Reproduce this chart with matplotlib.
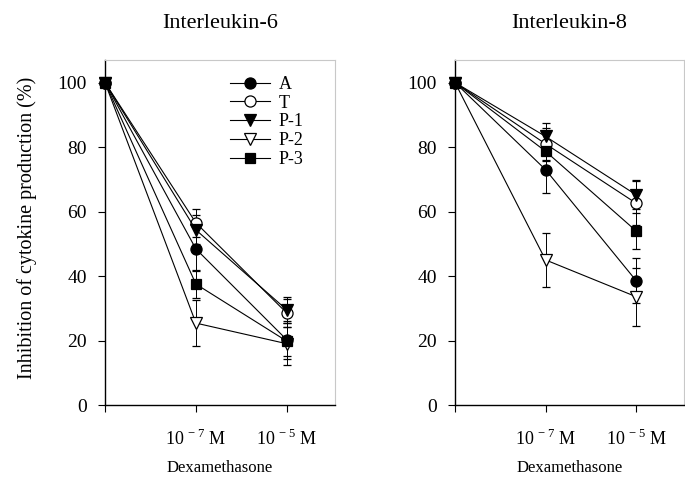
import matplotlib
matplotlib.use("Agg")
import matplotlib.pyplot as plt
from matplotlib.lines import Line2D

plt.rcParams['font.family'] = ['Liberation Serif', 'DejaVu Serif']
plt.rcParams['mathtext.fontset'] = 'custom'
plt.rcParams['mathtext.rm'] = 'Liberation Serif'

doses = ["control", "1e-7", "1e-5"]
tick_labels = [r"10$^{\,-7}$ M", r"10$^{\,-5}$ M"]
series = ["A", "T", "P-1", "P-2", "P-3"]

il6_A = [100, 48.4, 20.2]
il6_T = [100, 56.5, 28.5]
il6_P1 = [100, 54.3, 29.5]
il6_P2 = [100, 25.4, 19.0]
il6_P3 = [100, 37.5, 19.8]
il6_A_err = [0, 6.8, 6.0]
il6_T_err = [0, 4.3, 4.4]
il6_P1_err = [0, 4.5, 4.0]
il6_P2_err = [0, 7.1, 6.5]
il6_P3_err = [0, 4.3, 4.5]

il8_A = [100, 73.0, 38.6]
il8_T = [100, 81.0, 62.6]
il8_P1 = [100, 83.3, 65.2]
il8_P2 = [100, 45.0, 33.6]
il8_P3 = [100, 78.7, 54.0]
il8_A_err = [0, 7.2, 7.0]
il8_T_err = [0, 5.0, 6.8]
il8_P1_err = [0, 4.3, 4.5]
il8_P2_err = [0, 8.3, 9.0]
il8_P3_err = [0, 3.0, 5.6]

styles = {
    "A": dict(marker="o", mfc="black", mec="black"),
    "T": dict(marker="o", mfc="white", mec="black"),
    "P-1": dict(marker="v", mfc="black", mec="black"),
    "P-2": dict(marker="v", mfc="white", mec="black"),
    "P-3": dict(marker="s", mfc="black", mec="black"),
}
msize = {"A": 8, "T": 8, "P-1": 8, "P-2": 8.5, "P-3": 7}

fig = plt.figure(figsize=(6.85, 4.84), dpi=100)
ax1 = fig.add_axes([105/685, 1-405/484, 230/685, 345/484])
ax2 = fig.add_axes([455/685, 1-405/484, 229/685, 345/484])

x = list(range(len(doses)))
panels = [
    (ax1, "Interleukin-6",
     {"A": (il6_A, il6_A_err), "T": (il6_T, il6_T_err), "P-1": (il6_P1, il6_P1_err),
      "P-2": (il6_P2, il6_P2_err), "P-3": (il6_P3, il6_P3_err)}),
    (ax2, "Interleukin-8",
     {"A": (il8_A, il8_A_err), "T": (il8_T, il8_T_err), "P-1": (il8_P1, il8_P1_err),
      "P-2": (il8_P2, il8_P2_err), "P-3": (il8_P3, il8_P3_err)}),
]

for ax, title, data in panels:
    for name in series:
        vals, errs = data[name]
        ax.errorbar(x, vals, yerr=errs, color="black", lw=0.8, elinewidth=0.7,
                    capsize=3, capthick=0.7, markersize=msize[name],
                    markeredgewidth=0.9, clip_on=False, zorder=3, **styles[name])
    ax.set_xlim(0, 2.53)
    ax.set_ylim(0, 107)
    ax.set_yticks([0, 20, 40, 60, 80, 100])
    ax.set_xticks([0, 1, 2])
    ax.set_xticklabels([""] + tick_labels)
    ax.tick_params(direction="out", length=5, width=0.8)
    ax.tick_params(axis="y", labelsize=14, pad=8)
    ax.tick_params(axis="x", labelsize=13, pad=12)
    for s in ["left", "bottom"]:
        ax.spines[s].set_linewidth(1.0)
    for s in ["top", "right"]:
        ax.spines[s].set_color("#c8c8c8")
        ax.spines[s].set_linewidth(0.8)
    ax.set_title(title, fontsize=16, pad=23)
    ax.set_xlabel("Dexamethasone", fontsize=12, labelpad=8)

ax1.set_ylabel("Inhibition of cytokine production (%)", fontsize=14.5)
ax1.yaxis.set_label_coords(-0.296, 0.513)

handles = [Line2D([0], [0], color="black", lw=0.8, markersize=msize[n],
                  markeredgewidth=0.9, **styles[n]) for n in series]
ax1.legend(handles, series, loc="upper left", bbox_to_anchor=(0.513, 0.975),
           frameon=False, fontsize=13, handlelength=2.2, handletextpad=0.5,
           labelspacing=0.1, borderaxespad=0.0)

fig.savefig("out.png", dpi=100)
